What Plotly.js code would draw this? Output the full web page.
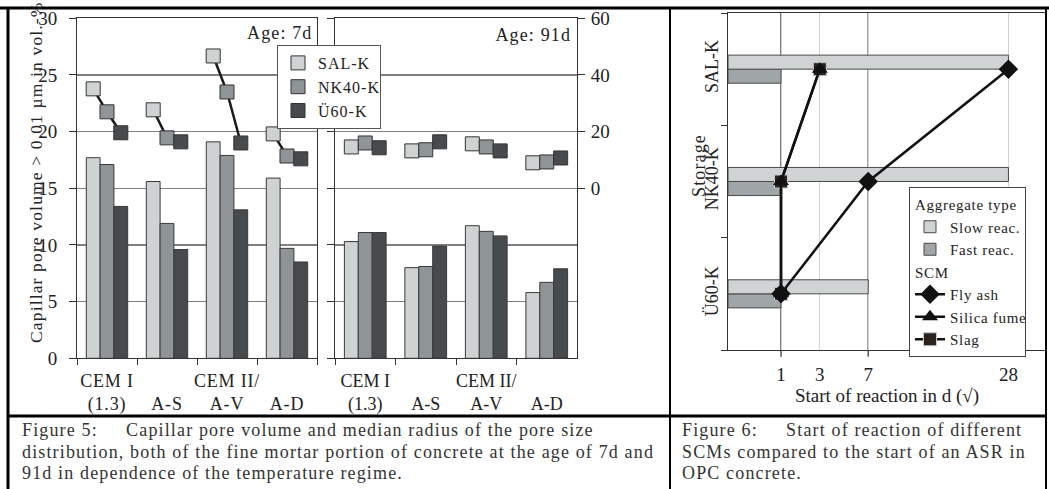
<!DOCTYPE html>
<html>
<head>
<meta charset="utf-8">
<script src="https://cdn.plot.ly/plotly-3.0.1.min.js"></script>
<style>
html,body{margin:0;padding:0;background:#fff;}
#chart{width:1049px;height:489px;}
#chart .annotation-text{letter-spacing:1.15px;}
#chart .xtick text{letter-spacing:0.8px;}
#chart .legendtext{letter-spacing:1px;}
#chart .legend2text{letter-spacing:0.7px;}
</style>
</head>
<body>
<div id="chart"></div>
<script>
// ---------- DATA ----------
const categories = ["CEM I (1.3)", "CEM II/A-S", "CEM II/A-V", "CEM II/A-D"];
const catTickText = ["CEM I<br>(1.3)", " <br>A-S", "CEM II/<br>A-V", " <br>A-D"];
const seriesNames = ["SAL-K", "NK40-K", "Ü60-K"];

// capillary pore volume (left axis, vol.-%)
const vol7_SAL  = [17.7, 15.6, 19.1, 15.9];
const vol7_NK40 = [17.1, 11.9, 17.9, 9.7];
const vol7_U60  = [13.4, 9.6, 13.1, 8.5];
const vol91_SAL  = [10.3, 8.0, 11.7, 5.8];
const vol91_NK40 = [11.1, 8.1, 11.2, 6.7];
const vol91_U60  = [11.1, 9.9, 10.8, 7.9];

// median radius (right axis, 10^-3 µm)
const rad7_SAL  = [35.1, 27.7, 46.7, 19.2];
const rad7_NK40 = [27.0, 17.8, 34.0, 11.4];
const rad7_U60  = [19.6, 16.4, 16.0, 10.4];
const rad91_SAL  = [14.6, 13.2, 15.7, 9.0];
const rad91_NK40 = [16.0, 13.6, 14.6, 9.3];
const rad91_U60  = [14.3, 16.4, 13.2, 10.7];

const rightTicks = [0, 20, 40, 60];

// Figure 6
const storage = ["Ü60-K", "NK40-K", "SAL-K"];
const slowReac = [7, 28, 28];
const fastReac = [1, 1, 1];
const flyAsh = [1, 7, 28];
const silicaFume = [1, 1, 3];
const slag = [1, 1, 3];
const dayTicks = [1, 3, 7, 28];
const strongDayLines = [1, 7];

const caption5 = [
  "Figure 5:&nbsp;&nbsp;&nbsp;&nbsp;&nbsp;Capillar pore volume and median radius of the pore size",
  "distribution, both of the fine mortar portion of concrete at the age of 7d and",
  "91d in dependence of the temperature regime."
];
const caption6 = [
  "Figure 6:&nbsp;&nbsp;&nbsp;&nbsp;&nbsp;Start of reaction of different",
  "SCMs compared to the start of an ASR in",
  "OPC concrete."
];

// ---------- STYLE ----------
const seriesColors = ["#cfd2d3", "#8f9597", "#474b4e"];
const barW = 0.23;
const FONT = "'Liberation Serif', 'Times New Roman', serif";
const TXT = "#222";

const traces = [];

function addPanel(vols, rads, xa, ya, xo, yo, legendOn) {
  vols.forEach((v, k) => {
    traces.push({
      type: "bar", x: categories, y: v, xaxis: xa, yaxis: ya,
      width: barW, offset: -1.5 * barW + k * barW,
      marker: {color: seriesColors[k], line: {color: "#3a3a3a", width: 1}},
      showlegend: false, hoverinfo: "skip"
    });
  });
  categories.forEach((c, i) => {
    traces.push({
      type: "scatter", mode: "lines", xaxis: xo, yaxis: yo,
      x: [0, 1, 2].map(k => i + (k - 1) * barW),
      y: rads.map(r => r[i]),
      line: {color: "#1a1a1a", width: 2.5},
      showlegend: false, hoverinfo: "skip"
    });
  });
  rads.forEach((r, k) => {
    traces.push({
      type: "scatter", mode: "markers", xaxis: xo, yaxis: yo,
      x: categories.map((c, i) => i + (k - 1) * barW),
      y: r, name: seriesNames[k],
      marker: {symbol: "square", size: 14, color: seriesColors[k], line: {color: "#333", width: 1}},
      showlegend: legendOn, legend: "legend", hoverinfo: "skip"
    });
  });
}
addPanel([vol7_SAL, vol7_NK40, vol7_U60], [rad7_SAL, rad7_NK40, rad7_U60], "x", "y", "x3", "y2", true);
addPanel([vol91_SAL, vol91_NK40, vol91_U60], [rad91_SAL, rad91_NK40, rad91_U60], "x2", "y3", "x4", "y4", false);

traces.push({
  type: "bar", orientation: "h", y: storage, x: fastReac.map(Math.sqrt), xaxis: "x5", yaxis: "y5",
  width: 0.125, offset: -0.125, name: "Fast reac.",
  marker: {color: "#a0a5a7", line: {color: "#4a4a4a", width: 1}},
  legend: "legend2", legendgroup: "agg", legendgrouptitle: {text: "Aggregate type"}, legendrank: 2, hoverinfo: "skip"
});
traces.push({
  type: "bar", orientation: "h", y: storage, x: slowReac.map(Math.sqrt), xaxis: "x5", yaxis: "y5",
  width: 0.125, offset: 0, name: "Slow reac.",
  marker: {color: "#d0d3d4", line: {color: "#4a4a4a", width: 1}},
  legend: "legend2", legendgroup: "agg", legendgrouptitle: {text: "Aggregate type"}, legendrank: 1, hoverinfo: "skip"
});
traces.push({
  type: "scatter", mode: "lines+markers", y: storage, x: slag.map(Math.sqrt), xaxis: "x5", yaxis: "y5",
  name: "Slag", line: {color: "#111", width: 2.5},
  marker: {symbol: "square", size: 13, color: "#2b2220", line: {color: "#c8c8c8", width: 1}},
  legend: "legend2", legendgroup: "scm", legendgrouptitle: {text: "SCM"}, legendrank: 5, hoverinfo: "skip"
});
traces.push({
  type: "scatter", mode: "lines+markers", y: storage, x: silicaFume.map(Math.sqrt), xaxis: "x5", yaxis: "y5",
  name: "Silica fume", line: {color: "#111", width: 2.5},
  marker: {symbol: "triangle-up", size: 14, color: "#111"},
  legend: "legend2", legendgroup: "scm", legendgrouptitle: {text: "SCM"}, legendrank: 4, hoverinfo: "skip"
});
traces.push({
  type: "scatter", mode: "lines+markers", y: storage, x: flyAsh.map(Math.sqrt), xaxis: "x5", yaxis: "y5",
  name: "Fly ash", line: {color: "#111", width: 2.5},
  marker: {symbol: "diamond", size: 15, color: "#111"},
  legend: "legend2", legendgroup: "scm", legendgrouptitle: {text: "SCM"}, legendrank: 3, hoverinfo: "skip"
});

const W = 1049, H = 489;
const px = x => x / W, py = y => (H - y) / H;
const yDom = [py(358.3), py(18.3)];

const catAxis = (dom, anchor) => ({
  domain: dom, anchor: anchor, type: "category", categoryorder: "array", categoryarray: categories,
  tickvals: categories, ticktext: catTickText, tickson: "boundaries", tickangle: 0,
  ticks: "outside", ticklen: 6, tickcolor: "#333", showline: true, linecolor: "#333", linewidth: 1,
  mirror: true, showgrid: false, range: [-0.5, 3.5], ticklabelstandoff: 6,
  tickfont: {family: FONT, size: 18, color: TXT}
});
const volAxis = (anchor, labels) => ({
  domain: yDom, anchor: anchor, range: [0, 30], dtick: 5, tick0: 0,
  ticks: "outside", ticklen: 7, tickcolor: "#333", showline: true, linecolor: "#333", linewidth: 1,
  mirror: true, gridcolor: "#808080", gridwidth: 1.5, zeroline: false, showticklabels: labels,
  tickfont: {family: FONT, size: 19, color: TXT}, ticklabelstandoff: 8
});

const annots = [
  {text: "Age: 7d", x: px(311), y: py(33), xanchor: "right", yanchor: "middle", font: {size: 18}},
  {text: "Age: 91d", x: px(569), y: py(35), xanchor: "right", yanchor: "middle", font: {size: 18}},
  {text: "Capillar pore volume > 0.01 µm in vol.-%", x: px(36), y: py(172), textangle: -90, xanchor: "center", yanchor: "middle", font: {size: 17.5}},
  {text: "Storage", x: px(699), y: py(166), textangle: -90, xanchor: "center", yanchor: "middle", font: {size: 18}}
];
const capY = [430, 451.5, 473];
caption5.forEach((t, i) => annots.push({text: t, x: px(20), y: py(capY[i]), xanchor: "left", yanchor: "middle", align: "left", font: {size: 18, color: "#333"}}));
caption6.forEach((t, i) => annots.push({text: t, x: px(680), y: py(capY[i]), xanchor: "left", yanchor: "middle", align: "left", font: {size: 18, color: "#333"}}));
annots.forEach(a => { a.xref = "paper"; a.yref = "paper"; a.showarrow = false; a.font.family = FONT; });

const layout = {
  width: W, height: H, margin: {l: 0, r: 0, t: 0, b: 0},
  paper_bgcolor: "#fff", plot_bgcolor: "#fff",
  font: {family: FONT, size: 18, color: TXT},
  barmode: "group", hovermode: false,
  xaxis: catAxis([px(77), px(317)], "y"),
  yaxis: volAxis("x", true),
  xaxis3: {overlaying: "x", anchor: "y", range: [-0.5, 3.5], visible: false},
  yaxis2: {overlaying: "y", anchor: "x", side: "right", range: [-60, 60], visible: false},
  xaxis2: catAxis([px(335), px(577)], "y3"),
  yaxis3: volAxis("x2", false),
  xaxis4: {overlaying: "x2", anchor: "y3", range: [-0.5, 3.5], visible: false},
  yaxis4: {overlaying: "y3", anchor: "x2", side: "right", range: [-60, 60], tickvals: rightTicks,
    ticks: "outside", ticklen: 7, tickcolor: "#333", showgrid: false, zeroline: false, showline: false,
    tickfont: {family: FONT, size: 19, color: TXT}, ticklabelstandoff: 2},
  xaxis5: {domain: [px(728), px(1046)], anchor: "y5", range: [0, 6],
    tickvals: dayTicks.map(Math.sqrt), ticktext: dayTicks.map(String), ticks: "",
    showgrid: true, gridcolor: "#d2d2d2", gridwidth: 1, showline: true, linecolor: "#333", mirror: true,
    zeroline: false, tickfont: {family: FONT, size: 19, color: TXT}, ticklabelstandoff: 7,
    title: {text: "Start of reaction in d (√)", standoff: 3, font: {family: FONT, size: 19, color: TXT}}},
  yaxis5: {domain: [py(350), py(13)], anchor: "x5", type: "category", categoryorder: "array",
    categoryarray: storage, tickangle: -90, tickson: "boundaries", ticks: "outside", ticklen: 6,
    tickcolor: "#333", showline: true, linecolor: "#333", mirror: true, showgrid: false,
    tickfont: {family: FONT, size: 18, color: TXT}, ticklabelstandoff: 2},
  legend: {x: px(277), y: py(45), xanchor: "left", yanchor: "top", bgcolor: "#fff",
    bordercolor: "#555", borderwidth: 1, font: {family: FONT, size: 16, color: TXT}, itemwidth: 30, tracegroupgap: 0},
  legend2: {x: px(909), y: py(187), xanchor: "left", yanchor: "top", bgcolor: "#fff",
    bordercolor: "#444", borderwidth: 1, font: {family: FONT, size: 15, color: TXT}, itemwidth: 30,
    traceorder: "grouped", tracegroupgap: 0, grouptitlefont: {family: FONT, size: 15, color: TXT}},
  annotations: annots,
  shapes: [
    ...strongDayLines.map(d => ({type: "line", xref: "x5", yref: "y5 domain", x0: Math.sqrt(d), x1: Math.sqrt(d), y0: -0.02, y1: 1, layer: "below", line: {color: "#555", width: 1.5}})),
    {type: "line", xref: "paper", yref: "paper", x0: 0, x1: 1, y0: py(8), y1: py(8), line: {color: "#000", width: 3}},
    {type: "line", xref: "paper", yref: "paper", x0: px(8), x1: px(8), y0: 0, y1: py(8), line: {color: "#000", width: 3}},
    {type: "line", xref: "paper", yref: "paper", x0: px(670), x1: px(670), y0: 0, y1: py(8), line: {color: "#000", width: 2}},
    {type: "line", xref: "paper", yref: "paper", x0: px(1046), x1: px(1046), y0: 0, y1: py(8), line: {color: "#000", width: 2}},
    {type: "line", xref: "paper", yref: "paper", x0: px(8), x1: px(1046), y0: py(416), y1: py(416), line: {color: "#000", width: 3}}
  ]
};

Plotly.newPlot("chart", traces, layout, {staticPlot: true, displayModeBar: false});
</script>
</body>
</html>
